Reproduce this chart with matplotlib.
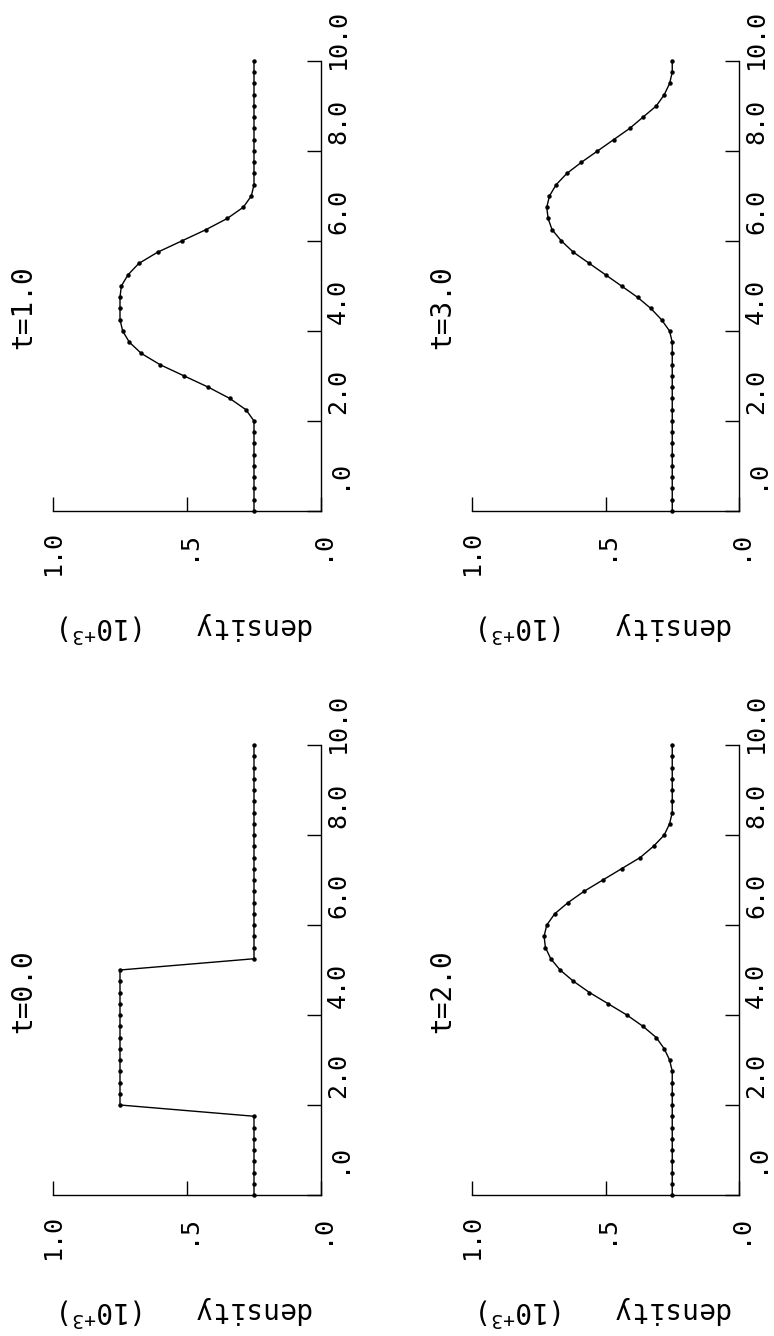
import numpy as np
import matplotlib.pyplot as plt
from matplotlib.transforms import offset_copy, blended_transform_factory

plt.rcParams['font.family'] = ['DejaVu Sans Mono']
plt.rcParams['mathtext.fontset'] = 'custom'
plt.rcParams['mathtext.rm'] = 'DejaVu Sans Mono'
plt.rcParams['mathtext.default'] = 'regular'

# grid positions of the solution
x = np.arange(0, 10.01, 0.25)

rho_t0 = [0.25] * 8 + [0.75] * 13 + [0.25] * 20
rho_t1 = ([0.25] * 9 +
          [0.28, 0.34, 0.42, 0.51, 0.60, 0.67, 0.715, 0.74, 0.75, 0.75, 0.75,
           0.745, 0.72, 0.68, 0.61, 0.52, 0.43, 0.35, 0.29, 0.26] +
          [0.25] * 12)
rho_t2 = ([0.25] * 12 +
          [0.26, 0.28, 0.31, 0.36, 0.42, 0.49, 0.56, 0.62, 0.67, 0.705, 0.725,
           0.73, 0.72, 0.69, 0.64, 0.58, 0.51, 0.44, 0.37, 0.32, 0.28, 0.26] +
          [0.25] * 7)
rho_t3 = ([0.25] * 16 +
          [0.26, 0.29, 0.33, 0.38, 0.44, 0.50, 0.56, 0.62, 0.665, 0.70, 0.715,
           0.72, 0.71, 0.685, 0.645, 0.59, 0.53, 0.47, 0.41, 0.36, 0.31, 0.28,
           0.26, 0.25, 0.25])

titles = ['t=0.0', 't=1.0', 't=2.0', 't=3.0']
series = [rho_t0, rho_t1, rho_t2, rho_t3]

rho_ticks = [1.0, 0.5, 0.0]
rho_labels = ['1.0', '.5', '.0']
x_ticks = [0, 2, 4, 6, 8, 10]
x_labels = ['.0', '2.0', '4.0', '6.0', '8.0', '10.0']

W, H = 774, 1336
fig = plt.figure(figsize=(W / 100, H / 100), dpi=100)

# plotting areas in pixels: columns (left, right), rows (top, bottom)
cols = [(53, 321), (472, 739)]
rows = [(61, 511), (745, 1195)]
# t=0 bottom left, t=1 top left, t=2 bottom right, t=3 top right
boxes = [(cols[0], rows[1]), (cols[0], rows[0]), (cols[1], rows[1]), (cols[1], rows[0])]

for (cx, ry), title, rho in zip(boxes, titles, series):
    ax = fig.add_axes([cx[0] / W, 1 - ry[1] / H, (cx[1] - cx[0]) / W, (ry[1] - ry[0]) / H])
    ax.set_xlim(1.0, 0.0)
    ax.set_ylim(0, 10)
    for s in ['top', 'left']:
        ax.spines[s].set_visible(False)
    for s in ['bottom', 'right']:
        ax.spines[s].set_linewidth(1.0)

    ax.plot(rho, x, color='black', lw=1.0, marker='o', ms=2.2, clip_on=False)

    ax.set_xticks(rho_ticks)
    ax.set_xticklabels(rho_labels, rotation=90, fontsize=18, va='top')
    ax.tick_params(axis='x', direction='in', length=10, pad=14, width=1)

    ax.yaxis.tick_right()
    ax.set_yticks(x_ticks)
    ax.set_yticklabels([])
    ax.tick_params(axis='y', direction='in', length=10, width=1)

    # position labels, right-aligned a little past each tick
    tr = blended_transform_factory(ax.transAxes, ax.transData)
    tr = offset_copy(tr, fig=fig, x=5, y=52, units='dots')
    for v, lab in zip(x_ticks, x_labels):
        ax.text(1.0, v, lab, rotation=90, ha='left', va='top', fontsize=18,
                transform=tr)

    ax.set_xlabel('density   (10$^{+3}$)', rotation=180, fontsize=20, labelpad=24)

    ax.text(-0.11, 3.6, title, rotation=90, ha='center', va='bottom', fontsize=20,
            transform=blended_transform_factory(ax.transAxes, ax.transData))

fig.savefig('out.png', dpi=100, facecolor='white')
